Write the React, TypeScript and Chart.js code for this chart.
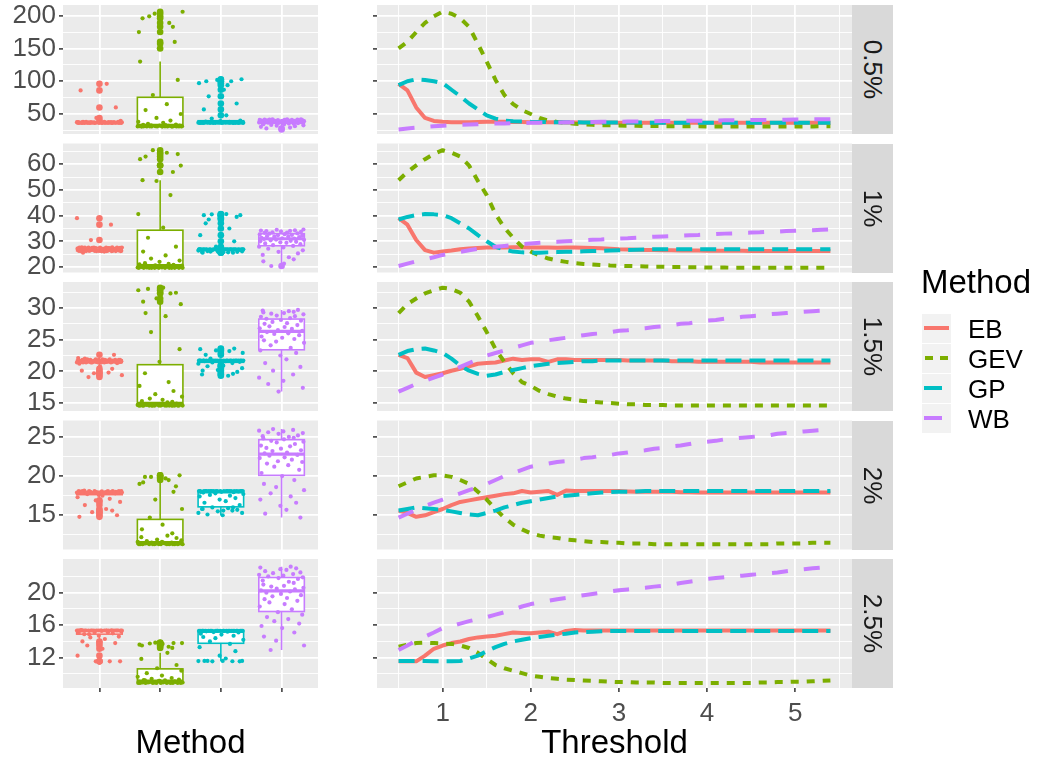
import React, { useEffect, useRef } from 'react';
import { Chart, registerables } from 'chart.js';

Chart.register(...registerables);

const FONT = "'Liberation Sans', Arial, Helvetica, sans-serif";

// ---------------- data ----------------
const methods = ['EB', 'GEV', 'GP', 'WB'];
const methodColors = ['#F8766D', '#7CAE00', '#00BFC4', '#C77CFF'];
const methodDashes = [[], [8, 8], [16, 8], [16, 16]];
const panelLabels = ['0.5%', '1%', '1.5%', '2%', '2.5%'];

const thresholds = [
  0.5, 0.6, 0.7, 0.8, 0.9, 1.0, 1.1, 1.2, 1.3, 1.4,
  1.5, 1.6, 1.7, 1.8, 1.9, 2.0, 2.1, 2.2, 2.3, 2.4,
  2.5, 2.6, 2.7, 2.8, 2.9, 3.0, 3.1, 3.2, 3.3, 3.4,
  3.5, 3.6, 3.7, 3.8, 3.9, 4.0, 4.1, 4.2, 4.3, 4.4,
  4.5, 4.6, 4.7, 4.8, 4.9, 5.0, 5.1, 5.2, 5.3, 5.4,
];

// 0.5%
const eb05 = [96, 86, 60, 44, 39.5, 38.2, 37.6, 37.5, 37.6, 37.8, 38, 38.1, 38, 37.9, 37.8, 37.6, 37.5, 37.4, 37.3, 37.2, 37.1, 37, 37, 36.9, 36.9, 36.8, 36.8, 36.8, 36.7, 36.7, 36.7, 36.7, 36.6, 36.6, 36.6, 36.6, 36.6, 36.6, 36.5, 36.5, 36.5, 36.5, 36.5, 36.5, 36.5, 36.5, 36.5, 36.5, 36.5, 36.5];
const gev05 = [150, 160, 175, 189, 199, 206, 203, 196, 183, 157, 130, 102, 79, 65, 56, 50, 44, 40, 38, 36.5, 35, 34, 33.5, 33, 32.7, 32.4, 32.2, 32, 31.8, 31.6, 31.5, 31.4, 31.3, 31.2, 31.2, 31.1, 31.1, 31, 31, 31, 31, 31, 31, 31, 31, 31, 31.1, 31.1, 31.2, 31.2];
const gp05 = [94, 100, 103, 102, 100, 97, 87, 77, 66, 57, 48, 43, 40, 39, 38.5, 38, 37.8, 37.6, 37.5, 37.4, 37.3, 37.2, 37.1, 37, 37, 37, 36.9, 36.9, 36.9, 36.8, 36.8, 36.8, 36.8, 36.7, 36.7, 36.7, 36.7, 36.7, 36.6, 36.6, 36.6, 36.6, 36.6, 36.6, 36.6, 36.6, 36.6, 36.6, 36.6, 36.6];
const wb05 = [26.5, 28, 29.3, 30.4, 31.4, 32.2, 32.8, 33.4, 34, 34.5, 35, 35.4, 35.7, 36, 36.3, 36.6, 36.8, 37, 37.2, 37.4, 37.6, 37.8, 37.9, 38, 38.2, 38.3, 38.5, 38.7, 38.8, 39, 39.2, 39.3, 39.5, 39.6, 39.8, 40, 40.1, 40.3, 40.4, 40.6, 40.7, 40.9, 41, 41.2, 41.3, 41.5, 41.6, 41.8, 41.9, 42];

// 1%
const eb1 = [39, 36.5, 30.5, 26.6, 25.6, 26, 26.4, 26.9, 27.2, 27.4, 27.6, 27.6, 27.6, 27.7, 27.7, 27.6, 27.6, 27.6, 27.5, 27.6, 27.6, 27.5, 27.4, 27.3, 27.1, 26.9, 26.8, 26.7, 26.6, 26.6, 26.5, 26.5, 26.4, 26.4, 26.4, 26.3, 26.3, 26.3, 26.3, 26.3, 26.2, 26.2, 26.2, 26.2, 26.2, 26.2, 26.2, 26.2, 26.2, 26.2];
const gev1 = [53.8, 57, 59.6, 62, 64, 65.5, 64.5, 63, 59.5, 53.5, 48, 40.6, 35.3, 31.4, 27.9, 26, 24.5, 23.3, 22.5, 22, 21.5, 21.2, 21, 20.8, 20.6, 20.5, 20.4, 20.3, 20.2, 20.1, 20.1, 20, 20, 19.9, 19.9, 19.8, 19.8, 19.8, 19.7, 19.7, 19.7, 19.7, 19.7, 19.7, 19.7, 19.7, 19.7, 19.7, 19.7, 19.7];
const gp1 = [38.5, 39.5, 40.2, 40.6, 40.5, 40.2, 39, 37, 35, 32.4, 30, 27.9, 26.8, 26, 25.7, 25.6, 25.6, 25.7, 25.8, 25.9, 26, 26.1, 26.2, 26.3, 26.4, 26.5, 26.6, 26.7, 26.8, 26.9, 26.9, 26.9, 26.9, 26.9, 26.9, 26.9, 26.9, 26.9, 26.9, 26.9, 26.9, 26.9, 26.9, 26.9, 26.9, 26.9, 26.9, 26.9, 26.9, 26.9];
const wb1 = [20.4, 21.3, 22.2, 23, 23.8, 24.7, 25.3, 25.9, 26.5, 27.1, 27.6, 27.9, 28.2, 28.5, 28.9, 29.2, 29.4, 29.6, 29.8, 30, 30.2, 30.4, 30.6, 30.7, 30.9, 31.1, 31.2, 31.4, 31.6, 31.8, 31.9, 32, 32.2, 32.4, 32.5, 32.7, 32.8, 33, 33.1, 33.3, 33.4, 33.5, 33.7, 33.8, 34, 34.1, 34.2, 34.3, 34.5, 34.6];

// 1.5%
const eb15 = [22.6, 22.1, 19.8, 19.1, 19.4, 19.7, 20.1, 20.4, 20.8, 21.2, 21.3, 21.4, 21.7, 22, 21.8, 21.9, 21.9, 21.5, 21.9, 21.9, 21.8, 21.8, 21.8, 21.8, 21.8, 21.8, 21.7, 21.7, 21.7, 21.7, 21.7, 21.6, 21.6, 21.6, 21.5, 21.5, 21.5, 21.5, 21.5, 21.5, 21.5, 21.4, 21.4, 21.4, 21.4, 21.4, 21.4, 21.4, 21.4, 21.4];
const gev15 = [29.2, 30.6, 31.5, 32.3, 32.8, 33.2, 33, 32.4, 31, 28.7, 26.2, 23.5, 21.5, 19.7, 18.3, 17.7, 16.9, 16.4, 16, 15.7, 15.5, 15.3, 15.2, 15.1, 15, 14.9, 14.8, 14.8, 14.7, 14.7, 14.7, 14.6, 14.6, 14.6, 14.6, 14.6, 14.6, 14.6, 14.6, 14.6, 14.6, 14.6, 14.6, 14.6, 14.6, 14.6, 14.6, 14.6, 14.6, 14.6];
const gp15 = [22.6, 23.2, 23.5, 23.6, 23.3, 22.9, 22, 20.9, 20.1, 19.6, 19.3, 19.5, 19.9, 20.2, 20.5, 20.8, 21, 21.2, 21.3, 21.4, 21.5, 21.6, 21.6, 21.7, 21.7, 21.7, 21.7, 21.7, 21.7, 21.7, 21.7, 21.7, 21.7, 21.7, 21.7, 21.7, 21.7, 21.7, 21.7, 21.7, 21.7, 21.7, 21.7, 21.7, 21.7, 21.7, 21.7, 21.7, 21.7, 21.7];
const wb15 = [16.8, 17.4, 18, 18.5, 19, 19.5, 20.1, 20.7, 21.3, 21.9, 22.5, 22.9, 23.3, 23.7, 24.1, 24.5, 24.7, 24.9, 25.1, 25.3, 25.5, 25.7, 25.9, 26, 26.2, 26.4, 26.5, 26.7, 26.8, 27, 27.1, 27.3, 27.5, 27.6, 27.8, 28, 28.1, 28.3, 28.4, 28.6, 28.7, 28.8, 29, 29.1, 29.2, 29.3, 29.4, 29.5, 29.6, 29.7];

// 2%
const eb2 = [15.6, 15.3, 14.8, 15, 15.4, 15.8, 16.3, 16.7, 16.9, 17.1, 17.3, 17.5, 17.7, 17.8, 18.1, 17.9, 18, 18.1, 17.6, 18.15, 18.1, 18.1, 18.1, 18.1, 18.1, 18.1, 18.05, 18, 18, 18, 18, 18, 17.95, 17.95, 17.9, 17.9, 17.9, 17.9, 17.9, 17.9, 17.9, 17.9, 17.9, 17.9, 17.9, 17.9, 17.9, 17.9, 17.9, 17.9];
const gev2 = [18.7, 19.2, 19.7, 19.9, 20.1, 20.1, 19.9, 19.5, 19, 18, 17, 15.8, 14.7, 13.8, 13.2, 12.7, 12.4, 12.2, 12.1, 11.9, 11.8, 11.7, 11.6, 11.6, 11.5, 11.5, 11.4, 11.4, 11.4, 11.3, 11.3, 11.3, 11.3, 11.3, 11.3, 11.3, 11.3, 11.3, 11.3, 11.3, 11.3, 11.3, 11.3, 11.4, 11.4, 11.4, 11.4, 11.5, 11.5, 11.5];
const gp2 = [15.6, 15.8, 16, 15.9, 15.8, 15.7, 15.5, 15.3, 15.1, 15, 15.3, 15.6, 16, 16.3, 16.6, 16.8, 17, 17.2, 17.4, 17.5, 17.6, 17.7, 17.8, 17.9, 17.95, 18, 18, 18.05, 18.1, 18.1, 18.1, 18.1, 18.1, 18.1, 18.1, 18.1, 18.1, 18.1, 18.1, 18.1, 18.1, 18.1, 18.1, 18.1, 18.1, 18.1, 18.1, 18.1, 18.1, 18.1];
const wb2 = [14.7, 15.2, 15.7, 16.2, 16.6, 17, 17.4, 17.8, 18.2, 18.6, 19, 19.5, 20, 20.4, 20.8, 21.2, 21.4, 21.6, 21.8, 21.9, 22.1, 22.3, 22.4, 22.6, 22.7, 22.9, 23, 23.2, 23.3, 23.5, 23.6, 23.8, 23.9, 24.1, 24.3, 24.4, 24.5, 24.7, 24.8, 24.9, 25, 25.1, 25.2, 25.4, 25.5, 25.6, 25.7, 25.8, 25.9, 26];

// 2.5%
const eb25 = [11.55, 11.55, 11.55, 12.25, 13.1, 13.5, 13.8, 14, 14.3, 14.5, 14.6, 14.7, 14.9, 15.1, 15.05, 15, 15.1, 15.2, 14.9, 15.3, 15.4, 15.35, 15.35, 15.35, 15.35, 15.35, 15.35, 15.35, 15.35, 15.35, 15.35, 15.35, 15.35, 15.35, 15.35, 15.35, 15.35, 15.35, 15.35, 15.35, 15.35, 15.35, 15.35, 15.35, 15.35, 15.35, 15.35, 15.35, 15.35, 15.35];
const gev25 = [13.35, 13.6, 13.8, 13.85, 13.8, 13.75, 13.7, 13.5, 13.2, 12.6, 11.85, 11.1, 10.7, 10.4, 10.1, 9.8, 9.65, 9.5, 9.4, 9.3, 9.25, 9.2, 9.15, 9.1, 9.05, 9, 9, 8.95, 8.95, 8.95, 8.9, 8.9, 8.9, 8.9, 8.9, 8.9, 8.9, 8.9, 8.9, 8.9, 8.9, 8.95, 8.95, 9, 9, 9.05, 9.05, 9.1, 9.15, 9.2];
const gp25 = [11.6, 11.6, 11.6, 11.58, 11.56, 11.55, 11.55, 11.6, 11.9, 12.25, 12.8, 13.3, 13.7, 14, 14.2, 14.4, 14.55, 14.7, 14.85, 14.95, 15.1, 15.15, 15.2, 15.25, 15.3, 15.3, 15.3, 15.3, 15.3, 15.3, 15.3, 15.3, 15.3, 15.3, 15.3, 15.3, 15.3, 15.3, 15.3, 15.3, 15.3, 15.3, 15.3, 15.3, 15.3, 15.3, 15.3, 15.3, 15.3, 15.3];
const wb25 = [12.95, 13.5, 14.1, 14.6, 15.1, 15.65, 15.9, 16.2, 16.5, 16.75, 17, 17.3, 17.6, 17.95, 18.3, 18.6, 18.8, 19, 19.2, 19.35, 19.55, 19.7, 19.85, 20, 20.15, 20.3, 20.4, 20.5, 20.6, 20.75, 20.85, 21, 21.2, 21.35, 21.5, 21.7, 21.8, 21.9, 22, 22.1, 22.2, 22.3, 22.4, 22.5, 22.65, 22.8, 22.9, 23, 23.1, 23.2];

const seriesByPanel = [
  [eb05, gev05, gp05, wb05],
  [eb1, gev1, gp1, wb1],
  [eb15, gev15, gp15, wb15],
  [eb2, gev2, gp2, wb2],
  [eb25, gev25, gp25, wb25],
];

// axis ranges & ticks
const yMinByPanel = [19.5, 17.86, 13.74, 10.63, 8.27];
const yMaxByPanel = [216.3, 68.1, 34.1, 27.1, 24.15];
const yMajorTicks = [[50, 100, 150, 200], [20, 30, 40, 50, 60], [15, 20, 25, 30], [15, 20, 25], [12, 16, 20]];
const yMinorTicks = [[25, 75, 125, 175], [25, 35, 45, 55, 65], [17.5, 22.5, 27.5, 32.5], [12.5, 17.5, 22.5], [10, 14, 18, 22]];
const thresholdMajorTicks = [1, 2, 3, 4, 5];
const thresholdMinorTicks = [0.5, 1.5, 2.5, 3.5, 4.5, 5.5];
const methodPositions = [1, 2, 3, 4];

// horizontal jitter pattern (category units) used to spread the points
const jitterPattern = [
  0.12, -0.31, 0.27, -0.05, 0.35, -0.22, 0.03, -0.37, 0.19, -0.14,
  0.31, -0.27, 0.08, -0.02, 0.24, -0.35, 0.15, -0.18, 0.37, -0.09,
  -0.29, 0.21, 0.01, -0.33, 0.29, -0.12, 0.11, -0.24, 0.34, -0.06,
  0.17, -0.36, 0.05, -0.2, 0.26, -0.28, 0.09, -0.15, 0.32, -0.01,
  -0.25, 0.14, -0.34, 0.22, -0.08, 0.36, -0.17, 0.04, -0.3, 0.2,
];

// ---------------- layout ----------------
const W = 1039;
const H = 760;
const ROW_TOP = [5, 143.5, 282, 420.5, 559];
const ROW_H = 129;
const LEFT_X0 = 63;
const LEFT_X1 = 318;
const RIGHT_X0 = 377;
const RIGHT_X1 = 852;
const STRIP_X1 = 893;
const BOTTOM_AXIS_H = 40;
const TICK_LEN = 4;
const TICK_FONT = 26;

const MAJOR_W = 1.8;
const MINOR_W = 0.9;

const bgPlugin = {
  id: 'panelBg',
  beforeDraw(chart: any) {
    const { ctx, chartArea: a } = chart;
    ctx.save();
    ctx.fillStyle = '#EBEBEB';
    ctx.fillRect(a.left, a.top, a.right - a.left, a.bottom - a.top);
    ctx.restore();
  },
};

function quantile(s: number[], p: number) {
  const h = (s.length - 1) * p;
  const lo = Math.floor(h);
  const hi = Math.min(lo + 1, s.length - 1);
  return s[lo] + (h - lo) * (s[hi] - s[lo]);
}

function boxStats(vals: number[]) {
  const s = [...vals].sort((a, b) => a - b);
  const q1 = quantile(s, 0.25);
  const med = quantile(s, 0.5);
  const q3 = quantile(s, 0.75);
  const iqr = q3 - q1;
  const lf = q1 - 1.5 * iqr;
  const uf = q3 + 1.5 * iqr;
  const inside = s.filter((v) => v >= lf && v <= uf);
  return { q1, med, q3, lo: inside[0], hi: inside[inside.length - 1], out: s.filter((v) => v < lf || v > uf) };
}

function makeBoxPlugin(r: number) {
  return {
    id: 'boxplots',
    beforeDatasetsDraw(chart: any) {
      const { ctx, chartArea: a } = chart;
      const xs = chart.scales.x;
      const ys = chart.scales.y;
      ctx.save();
      ctx.beginPath();
      ctx.rect(a.left, a.top, a.right - a.left, a.bottom - a.top);
      ctx.clip();
      seriesByPanel[r].forEach((vals, m) => {
        const st = boxStats(vals);
        const pos = methodPositions[m];
        const cx = xs.getPixelForValue(pos);
        const x0 = xs.getPixelForValue(pos - 0.375);
        const x1 = xs.getPixelForValue(pos + 0.375);
        const col = methodColors[m];
        ctx.fillStyle = col;
        st.out.forEach((v) => {
          ctx.beginPath();
          ctx.arc(cx, ys.getPixelForValue(v), 3.3, 0, Math.PI * 2);
          ctx.fill();
        });
        ctx.strokeStyle = col;
        ctx.lineWidth = 1.6;
        ctx.beginPath();
        ctx.moveTo(cx, ys.getPixelForValue(st.q3));
        ctx.lineTo(cx, ys.getPixelForValue(st.hi));
        ctx.moveTo(cx, ys.getPixelForValue(st.q1));
        ctx.lineTo(cx, ys.getPixelForValue(st.lo));
        ctx.stroke();
        const yq3 = ys.getPixelForValue(st.q3);
        const yq1 = ys.getPixelForValue(st.q1);
        ctx.fillStyle = '#FFFFFF';
        ctx.fillRect(x0, yq3, x1 - x0, yq1 - yq3);
        ctx.strokeRect(x0, yq3, x1 - x0, yq1 - yq3);
        ctx.lineWidth = 3.2;
        const ym = ys.getPixelForValue(st.med);
        ctx.beginPath();
        ctx.moveTo(x0, ym);
        ctx.lineTo(x1, ym);
        ctx.stroke();
      });
      ctx.restore();
    },
  };
}

function yScale(r: number, showLabels: boolean) {
  const major = yMajorTicks[r];
  const all = [...yMinorTicks[r], ...major].sort((a, b) => a - b);
  const isMajor = (v: number) => major.indexOf(v) >= 0;
  return {
    type: 'linear',
    min: yMinByPanel[r],
    max: yMaxByPanel[r],
    afterBuildTicks: (s: any) => {
      s.ticks = all.map((v) => ({ value: v }));
    },
    afterFit: (s: any) => {
      s.width = showLabels ? LEFT_X0 : TICK_LEN;
      s.paddingTop = 0;
      s.paddingBottom = 0;
    },
    ticks: {
      autoSkip: false,
      padding: 3,
      color: '#4D4D4D',
      font: { family: FONT, size: TICK_FONT },
      callback: (v: number) => (showLabels && isMajor(v) ? String(v) : ''),
    },
    grid: {
      color: '#FFFFFF',
      lineWidth: (c: any) => (c.tick && isMajor(c.tick.value) ? MAJOR_W : MINOR_W),
      drawTicks: true,
      tickLength: TICK_LEN,
      tickWidth: 1.5,
      tickColor: (c: any) => (c.tick && isMajor(c.tick.value) ? '#333333' : 'rgba(0,0,0,0)'),
    },
    border: { display: false },
  };
}

function leftConfig(r: number): any {
  const bottomRow = r === 4;
  const panelBottom = ROW_TOP[r] + ROW_H;
  return {
    type: 'scatter',
    data: {
      datasets: seriesByPanel[r].map((vals, m) => ({
        label: methods[m],
        data: vals.map((v, i) => ({
          x: methodPositions[m] + jitterPattern[(i + 13 * m + 7 * r) % jitterPattern.length],
          y: v,
        })),
        pointRadius: 2.1,
        pointBorderWidth: 0,
        pointBackgroundColor: methodColors[m],
        backgroundColor: methodColors[m],
        showLine: false,
      })),
    },
    options: {
      responsive: false,
      animation: false,
      devicePixelRatio: 1,
      events: [],
      layout: {
        autoPadding: false,
        padding: {
          left: 0,
          right: W - LEFT_X1,
          top: ROW_TOP[r],
          bottom: bottomRow ? H - panelBottom - BOTTOM_AXIS_H : H - panelBottom,
        },
      },
      plugins: { legend: { display: false }, tooltip: { enabled: false } },
      scales: {
        x: {
          type: 'linear',
          min: 0.4,
          max: 4.6,
          afterBuildTicks: (s: any) => {
            s.ticks = methodPositions.map((v) => ({ value: v }));
          },
          afterFit: (s: any) => {
            s.height = bottomRow ? BOTTOM_AXIS_H : 0;
            s.paddingLeft = 0;
            s.paddingRight = 0;
          },
          ticks: { autoSkip: false, maxRotation: 0, callback: () => '', font: { family: FONT, size: TICK_FONT } },
          grid: {
            color: '#FFFFFF',
            lineWidth: MAJOR_W,
            drawTicks: bottomRow,
            tickLength: bottomRow ? TICK_LEN : 0,
            tickWidth: 1.5,
            tickColor: '#333333',
          },
          border: { display: false },
        },
        y: yScale(r, true),
      },
    },
    plugins: [bgPlugin, makeBoxPlugin(r)],
  };
}

function rightConfig(r: number): any {
  const bottomRow = r === 4;
  const panelBottom = ROW_TOP[r] + ROW_H;
  const isMajorX = (v: number) => thresholdMajorTicks.indexOf(v) >= 0;
  const allX = [...thresholdMinorTicks, ...thresholdMajorTicks].sort((a, b) => a - b);
  return {
    type: 'line',
    data: {
      datasets: seriesByPanel[r].map((vals, m) => ({
        label: methods[m],
        data: vals.map((v, i) => ({ x: thresholds[i], y: v })),
        borderColor: methodColors[m],
        backgroundColor: methodColors[m],
        borderWidth: 4,
        borderDash: methodDashes[m],
        borderCapStyle: 'butt',
        borderJoinStyle: 'round',
        pointRadius: 0,
        tension: 0,
        fill: false,
        order: 3 - m,
      })),
    },
    options: {
      responsive: false,
      animation: false,
      devicePixelRatio: 1,
      events: [],
      layout: {
        autoPadding: false,
        padding: {
          left: RIGHT_X0 - TICK_LEN,
          right: W - RIGHT_X1,
          top: ROW_TOP[r],
          bottom: bottomRow ? H - panelBottom - BOTTOM_AXIS_H : H - panelBottom,
        },
      },
      plugins: { legend: { display: false }, tooltip: { enabled: false } },
      scales: {
        x: {
          type: 'linear',
          min: 0.255,
          max: 5.645,
          afterBuildTicks: (s: any) => {
            s.ticks = allX.map((v) => ({ value: v }));
          },
          afterFit: (s: any) => {
            s.height = bottomRow ? BOTTOM_AXIS_H : 0;
            s.paddingLeft = 0;
            s.paddingRight = 0;
          },
          ticks: {
            display: bottomRow,
            autoSkip: false,
            maxRotation: 0,
            padding: 6,
            color: '#4D4D4D',
            font: { family: FONT, size: TICK_FONT },
            callback: (v: number) => (isMajorX(v) ? String(v) : ''),
          },
          grid: {
            color: '#FFFFFF',
            lineWidth: (c: any) => (c.tick && isMajorX(c.tick.value) ? MAJOR_W : MINOR_W),
            drawTicks: bottomRow,
            tickLength: bottomRow ? TICK_LEN : 0,
            tickWidth: 1.5,
            tickColor: (c: any) => (c.tick && isMajorX(c.tick.value) ? '#333333' : 'rgba(0,0,0,0)'),
          },
          border: { display: false },
        },
        y: yScale(r, false),
      },
    },
    plugins: [bgPlugin],
  };
}

const canvasStyle: React.CSSProperties = { position: 'absolute', left: 0, top: 0, width: W, height: H };

export default function App() {
  const leftRefs = useRef<(HTMLCanvasElement | null)[]>([]);
  const rightRefs = useRef<(HTMLCanvasElement | null)[]>([]);

  useEffect(() => {
    const charts: Chart[] = [];
    for (let r = 0; r < 5; r++) {
      const lc = leftRefs.current[r];
      const rc = rightRefs.current[r];
      if (lc) charts.push(new Chart(lc, leftConfig(r)));
      if (rc) charts.push(new Chart(rc, rightConfig(r)));
    }
    return () => charts.forEach((c) => c.destroy());
  }, []);

  const legendKeyTops = [314, 344, 374, 404];
  const legendLabelCenters = [329.2, 359.2, 389.2, 419.2];
  const LEGEND_FONT = 26;

  return (
    <div
      style={{
        position: 'absolute',
        left: 0,
        top: 0,
        width: W,
        height: H,
        overflow: 'hidden',
        background: '#FFFFFF',
        fontFamily: FONT,
      }}
    >
      {panelLabels.map((_, r) => (
        <canvas key={'l' + r} ref={(el) => { leftRefs.current[r] = el; }} width={W} height={H} style={canvasStyle} />
      ))}
      {panelLabels.map((_, r) => (
        <canvas key={'r' + r} ref={(el) => { rightRefs.current[r] = el; }} width={W} height={H} style={canvasStyle} />
      ))}

      {panelLabels.map((lab, r) => (
        <div
          key={'s' + r}
          style={{
            position: 'absolute',
            left: RIGHT_X1,
            top: ROW_TOP[r],
            width: STRIP_X1 - RIGHT_X1,
            height: ROW_H,
            background: '#D9D9D9',
          }}
        />
      ))}
      {panelLabels.map((lab, r) => (
        <div
          key={'st' + r}
          style={{
            position: 'absolute',
            left: (RIGHT_X1 + STRIP_X1) / 2 - ROW_H / 2,
            top: ROW_TOP[r] + ROW_H / 2 - 20.5,
            width: ROW_H,
            height: 41,
            lineHeight: '41px',
            textAlign: 'center',
            fontSize: 26,
            color: '#1A1A1A',
            transform: 'rotate(90deg)',
            whiteSpace: 'nowrap',
          }}
        >
          {lab}
        </div>
      ))}

      <div
        style={{
          position: 'absolute',
          left: (LEFT_X0 + LEFT_X1) / 2 - 150,
          top: 724.6,
          width: 300,
          textAlign: 'center',
          fontSize: 33,
          lineHeight: '33px',
          color: '#000000',
        }}
      >
        Method
      </div>
      <div
        style={{
          position: 'absolute',
          left: (RIGHT_X0 + RIGHT_X1) / 2 - 150,
          top: 724.6,
          width: 300,
          textAlign: 'center',
          fontSize: 33,
          lineHeight: '33px',
          color: '#000000',
        }}
      >
        Threshold
      </div>

      <div style={{ position: 'absolute', left: 921, top: 265, fontSize: 33, lineHeight: '33px', color: '#000000' }}>
        Method
      </div>
      {methods.map((m, i) => {
        const top = legendKeyTops[i];
        const cy = top + 14.35;
        const col = methodColors[i];
        let segs: [number, number][] = [];
        if (i === 0) segs = [[924, 25]];
        else if (i === 1) segs = [[925, 8], [940, 8]];
        else segs = [[924, 17.7]];
        return (
          <React.Fragment key={'lg' + m}>
            <div style={{ position: 'absolute', left: 922.3, top, width: 28.4, height: 28.7, background: '#F2F2F2' }} />
            {segs.map(([x, w], k) => (
              <div
                key={k}
                style={{ position: 'absolute', left: x, top: cy - 2, width: w, height: 4, background: col }}
              />
            ))}
            <div
              style={{
                position: 'absolute',
                left: 968,
                top: legendLabelCenters[i] - 0.4885 * LEGEND_FONT,
                fontSize: LEGEND_FONT,
                lineHeight: LEGEND_FONT + 'px',
                color: '#000000',
                whiteSpace: 'nowrap',
              }}
            >
              {m}
            </div>
          </React.Fragment>
        );
      })}
    </div>
  );
}
